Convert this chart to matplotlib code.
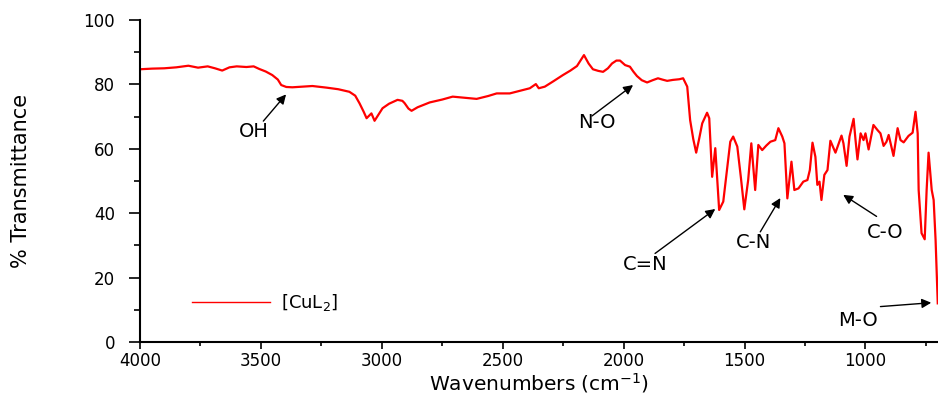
import matplotlib
matplotlib.use("Agg")
import matplotlib.pyplot as plt
from matplotlib.ticker import MultipleLocator

wavenumber = [4000, 3950, 3900, 3850, 3800, 3760, 3720, 3690, 3660, 3630, 3600, 3560, 3530,
              3507, 3480, 3453, 3430, 3416, 3395, 3370, 3330, 3287, 3250, 3229, 3180, 3134,
              3110, 3092, 3075, 3063, 3050, 3043, 3030, 3015, 2997, 2970, 2935, 2915, 2906,
              2890, 2877, 2852, 2802, 2750, 2707, 2650, 2608, 2560, 2525, 2471, 2420, 2388,
              2363, 2351, 2326, 2290, 2251, 2220, 2193, 2164, 2145, 2127, 2105, 2085, 2065,
              2048, 2030, 2015, 1994, 1974, 1960, 1945, 1925, 1903, 1880, 1858, 1840, 1820,
              1796, 1770, 1754, 1737, 1725, 1712, 1700, 1688, 1675, 1655, 1646, 1634, 1621,
              1605, 1588, 1575, 1559, 1547, 1530, 1515, 1501, 1485, 1472, 1456, 1443, 1427,
              1410, 1393, 1373, 1360, 1344, 1335, 1323, 1306, 1294, 1277, 1257, 1240, 1230,
              1219, 1207, 1199, 1190, 1182, 1170, 1157, 1145, 1124, 1099, 1091, 1078, 1066,
              1049, 1041, 1033, 1020, 1008, 1000, 987, 967, 950, 938, 925, 913, 904, 884,
              867, 855, 842, 822, 805, 793, 784, 780, 768, 755, 747, 739, 726, 718, 710, 701]
transmittance = [84.7, 84.9, 85.0, 85.3, 85.8, 85.2, 85.6, 85.0, 84.3, 85.3, 85.6, 85.4, 85.6,
                 84.8, 84.0, 82.9, 81.5, 79.8, 79.2, 79.1, 79.3, 79.5, 79.2, 79.0, 78.5, 77.7,
                 76.5, 74.1, 71.5, 69.5, 70.5, 71.0, 68.7, 70.5, 72.6, 74.0, 75.2, 74.9, 74.2,
                 72.5, 71.8, 72.9, 74.4, 75.3, 76.2, 75.8, 75.5, 76.4, 77.2, 77.2, 78.2, 78.8,
                 80.1, 78.8, 79.3, 81.0, 82.9, 84.3, 85.7, 89.1, 86.5, 84.7, 84.2, 83.9, 85.0,
                 86.5, 87.4, 87.4, 86.0, 85.5, 84.0, 82.6, 81.3, 80.6, 81.3, 81.9, 81.5, 81.1,
                 81.4, 81.6, 81.9, 79.3, 68.9, 63.0, 58.8, 63.0, 67.9, 71.2, 69.5, 51.3, 60.2,
                 41.0, 43.6, 52.0, 62.2, 63.8, 60.7, 51.0, 41.2, 50.3, 61.7, 47.2, 61.2, 59.6,
                 61.0, 62.2, 62.7, 66.4, 63.8, 61.7, 44.6, 56.0, 47.2, 47.7, 49.8, 50.3, 53.4,
                 61.9, 57.5, 48.8, 49.8, 44.1, 51.9, 53.4, 62.5, 58.8, 64.1, 61.7, 54.7, 63.8,
                 69.3, 62.7, 56.7, 64.8, 62.7, 64.8, 59.8, 67.4, 65.8, 64.8, 60.9, 62.2, 64.3, 57.8,
                 66.4, 62.7, 62.0, 64.0, 65.0, 71.5, 64.8, 47.2, 33.8, 31.9, 47.2, 58.8, 47.2, 44.1, 31.7, 12.0]

series_label = "[CuL$_2$]"
x_ticks = [4000, 3500, 3000, 2500, 2000, 1500, 1000]
y_ticks = [0, 20, 40, 60, 80, 100]

# annotations: label, text position, arrow tail, arrow head
ann_labels = ["OH", "N-O", "C=N", "C-N", "C-O", "M-O"]
ann_text = [(3528, 65.5), (2110, 68.3), (1911, 24.2), (1464, 31.0), (917, 33.9), (1029, 6.8)]
ann_tail = [(3490, 68.6), (2131, 70.2), (1870, 27.5), (1435, 34.2), (954, 39.0), (938, 11.0)]
ann_head = [(3396, 76.9), (1961, 79.8), (1621, 41.3), (1352, 44.7), (1092, 45.7), (728, 12.2)]

fig = plt.figure(figsize=(9.38, 3.97), dpi=100)
ax = fig.add_axes([140/938, 1 - 342/397, 798/938, 322/397])

ax.plot(wavenumber, transmittance, color="red", lw=1.6, label=series_label)

ax.set_xlim(4000, 700)
ax.set_ylim(0, 100)
ax.set_xticks(x_ticks)
ax.set_yticks(y_ticks)
ax.xaxis.set_minor_locator(MultipleLocator(250))
ax.yaxis.set_minor_locator(MultipleLocator(10))

for s in ["top", "right"]:
    ax.spines[s].set_visible(False)
for s in ["left", "bottom"]:
    ax.spines[s].set_linewidth(1.5)

ax.tick_params(axis="y", which="major", direction="out", length=8, width=1.2, pad=10,
               labelsize=12)
ax.tick_params(axis="y", which="minor", direction="out", length=4.5, width=1.2)
ax.tick_params(axis="x", which="major", direction="out", length=5, width=1.2, pad=2,
               labelsize=12)
ax.tick_params(axis="x", which="minor", direction="out", length=3, width=1.2)

ax.set_xlabel("Wavenumbers (cm$^{-1}$)", fontsize=14.5, labelpad=1)
ax.set_ylabel("% Transmittance", fontsize=15,
              family=["Liberation Sans Narrow", "DejaVu Sans Condensed", "DejaVu Sans"],
              labelpad=38)

for lab, tp, tl, hd in zip(ann_labels, ann_text, ann_tail, ann_head):
    ax.text(tp[0], tp[1], lab, fontsize=14, ha="center", va="center")
    ax.annotate("", xy=hd, xytext=tl,
                arrowprops=dict(arrowstyle="-|>", color="black", lw=1.0,
                                mutation_scale=14, shrinkA=0, shrinkB=0))

leg = ax.legend(loc="lower left", bbox_to_anchor=(0.045, 0.04), frameon=False,
                fontsize=13, handlelength=4.3, handletextpad=0.6)
for ln in leg.get_lines():
    ln.set_linewidth(1.0)

fig.savefig("out.png", dpi=100)
